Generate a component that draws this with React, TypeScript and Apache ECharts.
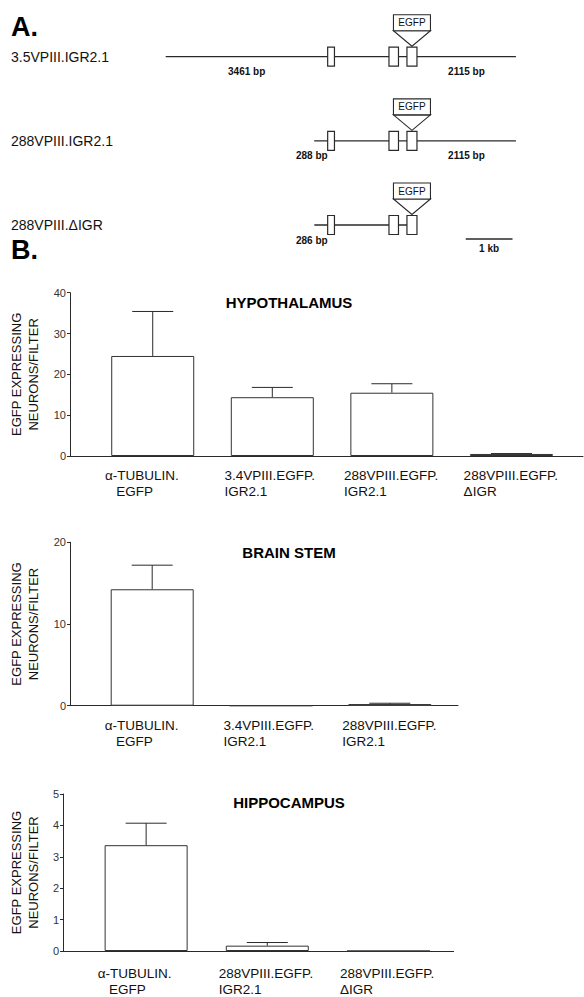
import React, { useEffect, useRef } from 'react';
import * as echarts from 'echarts';

// ---------- Panel A data ----------
const constructNames = ['3.5VPIII.IGR2.1', '288VPIII.IGR2.1', '288VPIII.ΔIGR'];
const upstreamBp = [3461, 288, 286];
const downstreamBp = [2115, 2115, 0];
const exonStartBp = [0, 1310, 1694];
const exonEndBp = [145, 1513, 1908];
const insertLabel = 'EGFP';
const scaleBarStartBp = 2950;
const scaleBarBp = 1000;
const scaleBarLabel = '1 kb';

// ---------- Panel B data ----------
const hypoCategories = ['α-TUBULIN.\n   EGFP', '3.4VPIII.EGFP.\nIGR2.1', '288VPIII.EGFP.\nIGR2.1', '288VPIII.EGFP.\nΔIGR'];
const hypoMeans = [24.5, 14.4, 15.5, 0.5];
const hypoErrors = [10.9, 2.4, 2.2, 0.1];

const brainCategories = ['α-TUBULIN.\n   EGFP', '3.4VPIII.EGFP.\nIGR2.1', '288VPIII.EGFP.\nIGR2.1'];
const brainMeans = [14.25, 0, 0.2];
const brainErrors = [2.95, 0, 0.1];

const hippoCategories = ['α-TUBULIN.\n   EGFP', '288VPIII.EGFP.\nIGR2.1', '288VPIII.EGFP.\nΔIGR'];
const hippoMeans = [3.37, 0.17, 0];
const hippoErrors = [0.7, 0.1, 0];

const panelTitles = ['HYPOTHALAMUS', 'BRAIN STEM', 'HIPPOCAMPUS'];
const yMaxes = [40, 20, 5];
const yIntervals = [10, 10, 1];
const yAxisTitle = 'EGFP EXPRESSING\nNEURONS/FILTER';

const FONT = '"Liberation Sans", Arial, Helvetica, sans-serif';
const INK = '#111';
const LINE = '#2a2a2a';

export default function App() {
  const ref = useRef<HTMLDivElement>(null);

  useEffect(() => {
    if (!ref.current) return;
    const chart = echarts.init(ref.current, null, { renderer: 'svg' });

    const firstCenter = 144;
    const step = 122;
    const panels = [
      { cats: hypoCategories, means: hypoMeans, errs: hypoErrors, left: 59.6, top: 292.7, width: 523.4, height: 163.3, nameGap: 28, titleY: 302, labelMargin: 11 },
      { cats: brainCategories, means: brainMeans, errs: brainErrors, left: 59.6, top: 542.3, width: 398.4, height: 163.4, nameGap: 28, titleY: 552.7, labelMargin: 12 },
      { cats: hippoCategories, means: hippoMeans, errs: hippoErrors, left: 60.3, top: 794, width: 393.3, height: 163.3, nameGap: 21, titleY: 802.7, labelMargin: 14 },
    ];

    const grids: any[] = [{ left: 159.2, top: 14.6, width: 369.7, height: 252.5 }];
    const xAxes: any[] = [{ type: 'value', gridIndex: 0, min: -3600, max: 4300, show: false }];
    const yAxes: any[] = [{
      type: 'category', gridIndex: 0, inverse: true, data: constructNames,
      axisLine: { show: false }, axisTick: { show: false }, splitLine: { show: false },
      axisLabel: { align: 'left', margin: 148.2, fontSize: 14, color: INK, fontFamily: FONT },
    }];

    const series: any[] = [];

    series.push({
      type: 'custom', xAxisIndex: 0, yAxisIndex: 0, clip: false,
      encode: { x: 1, y: 0 },
      data: constructNames.map((_, i) => [i, upstreamBp[i], downstreamBp[i]]),
      renderItem: (params: any, api: any) => {
        const i = api.value(0);
        const up = api.value(1);
        const down = api.value(2);
        const xAt = (bp: number) => api.coord([bp, i])[0];
        const y = api.coord([0, i])[1];
        const children: any[] = [];
        const lineStart = xAt(-up);
        const last = exonStartBp.length - 1;
        const lineEnd = down > 0 ? xAt(exonEndBp[last] + down) : xAt(exonStartBp[last]);
        children.push({ type: 'line', shape: { x1: lineStart, y1: y, x2: lineEnd, y2: y }, style: { stroke: LINE, lineWidth: 1.3 } });
        exonStartBp.forEach((s, k) => {
          const x0 = xAt(s);
          const x1 = xAt(exonEndBp[k]);
          children.push({ type: 'rect', shape: { x: x0, y: y - 9.5, width: x1 - x0, height: 19 }, style: { fill: '#fff', stroke: LINE, lineWidth: 1.2 } });
        });
        const cx = (xAt(exonStartBp[last]) + xAt(exonEndBp[last])) / 2;
        children.push({ type: 'polygon', shape: { points: [[cx - 18.5, y - 26], [cx + 18.5, y - 26], [cx, y - 10.5]] }, style: { fill: '#fff', stroke: LINE, lineWidth: 1.1 } });
        children.push({ type: 'rect', shape: { x: cx - 18.5, y: y - 42, width: 37, height: 16 }, style: { fill: '#fff', stroke: LINE, lineWidth: 1.1 } });
        children.push({ type: 'text', style: { text: insertLabel, x: cx, y: y - 34, textAlign: 'center', textVerticalAlign: 'middle', fontSize: 10, fontFamily: FONT, fill: INK } });
        const e1 = xAt(0);
        const upText = `${up} bp`;
        if (e1 - lineStart > 60) {
          children.push({ type: 'text', style: { text: upText, x: (lineStart + e1) / 2, y: y + 15, textAlign: 'center', textVerticalAlign: 'middle', fontSize: 10, fontWeight: 'bold', fontFamily: FONT, fill: INK } });
        } else {
          children.push({ type: 'text', style: { text: upText, x: e1, y: y + 15, textAlign: 'right', textVerticalAlign: 'middle', fontSize: 10, fontWeight: 'bold', fontFamily: FONT, fill: INK } });
        }
        if (down > 0) {
          const xs = xAt(exonEndBp[last]);
          children.push({ type: 'text', style: { text: `${down} bp`, x: (xs + lineEnd) / 2, y: y + 15, textAlign: 'center', textVerticalAlign: 'middle', fontSize: 10, fontWeight: 'bold', fontFamily: FONT, fill: INK } });
        }
        return { type: 'group', children };
      },
    });

    series.push({
      type: 'custom', xAxisIndex: 0, yAxisIndex: 0, clip: false,
      encode: { x: 0, y: 1 },
      data: [[scaleBarStartBp, constructNames.length - 1]],
      renderItem: (params: any, api: any) => {
        const p0 = api.coord([api.value(0), api.value(1)]);
        const p1 = api.coord([api.value(0) + scaleBarBp, api.value(1)]);
        const y = p0[1] + 14;
        return {
          type: 'group', children: [
            { type: 'line', shape: { x1: p0[0], y1: y, x2: p1[0], y2: y }, style: { stroke: LINE, lineWidth: 1.3 } },
            { type: 'text', style: { text: scaleBarLabel, x: (p0[0] + p1[0]) / 2, y: y + 9.5, textAlign: 'center', textVerticalAlign: 'middle', fontSize: 10, fontWeight: 'bold', fontFamily: FONT, fill: INK } },
          ],
        };
      },
    });

    const labelShift = 0.4;
    const graphics: any[] = [
      { type: 'text', left: 11, top: 13, style: { text: 'A.', fontSize: 27, fontWeight: 'bold', fontFamily: FONT, fill: '#000' } },
      { type: 'text', left: 11, top: 236, style: { text: 'B.', fontSize: 27, fontWeight: 'bold', fontFamily: FONT, fill: '#000' } },
    ];

    panels.forEach((p, k) => {
      const g = k + 1;
      grids.push({ left: p.left, top: p.top, width: p.width, height: p.height });
      const min = (p.left - firstCenter) / step;
      const max = min + p.width / step;
      xAxes.push({
        type: 'value', gridIndex: g, min, max,
        axisLine: { show: true, onZero: false, lineStyle: { color: LINE, width: 1 } },
        axisTick: { show: false }, splitLine: { show: false },
        axisLabel: {
          customValues: p.cats.map((_, i) => i - labelShift),
          formatter: (v: number) => p.cats[Math.round(v + labelShift)] ?? '',
          align: 'left', margin: p.labelMargin, fontSize: 13.5, lineHeight: 16, color: INK, fontFamily: FONT,
        },
      });
      yAxes.push({
        type: 'value', gridIndex: g, min: 0, max: yMaxes[k], interval: yIntervals[k],
        axisLine: { show: true, onZero: false, lineStyle: { color: LINE, width: 1 } },
        axisTick: { show: true, length: 3, lineStyle: { color: LINE } },
        splitLine: { show: false },
        axisLabel: { fontSize: 11, margin: 4, color: '#333', fontFamily: FONT },
        name: yAxisTitle, nameLocation: 'middle', nameGap: p.nameGap,
        nameTextStyle: { fontSize: 13, lineHeight: 17, color: INK, fontFamily: FONT },
      });
      series.push({
        type: 'bar', xAxisIndex: g, yAxisIndex: g, barWidth: 83,
        data: p.means.map((m, i) => [i, m]),
        itemStyle: { color: '#fff', borderColor: '#333', borderWidth: 1 },
        z: 2,
      });
      series.push({
        type: 'custom', xAxisIndex: g, yAxisIndex: g, clip: false, z: 3,
        data: p.means.map((m, i) => [i, m, p.errs[i]]),
        renderItem: (params: any, api: any) => {
          const i = api.value(0);
          const m = api.value(1);
          const e = api.value(2);
          if (!(e > 0)) return null;
          const a = api.coord([i, m]);
          const b = api.coord([i, m + e]);
          return {
            type: 'group', children: [
              { type: 'line', shape: { x1: a[0], y1: a[1], x2: b[0], y2: b[1] }, style: { stroke: LINE, lineWidth: 1 } },
              { type: 'line', shape: { x1: b[0] - 20.5, y1: b[1], x2: b[0] + 20.5, y2: b[1] }, style: { stroke: LINE, lineWidth: 1 } },
            ],
          };
        },
      });
      graphics.push({ type: 'text', x: 289, y: p.titleY, style: { text: panelTitles[k], textAlign: 'center', textVerticalAlign: 'middle', fontSize: 15, fontWeight: 'bold', fontFamily: FONT, fill: '#000' } });
    });

    chart.setOption({
      animation: false,
      backgroundColor: '#fff',
      textStyle: { fontFamily: FONT },
      grid: grids,
      xAxis: xAxes,
      yAxis: yAxes,
      series,
      graphic: graphics,
    });

    return () => chart.dispose();
  }, []);

  return <div ref={ref} style={{ position: 'absolute', left: 0, top: 0, width: 584, height: 997 }} />;
}
